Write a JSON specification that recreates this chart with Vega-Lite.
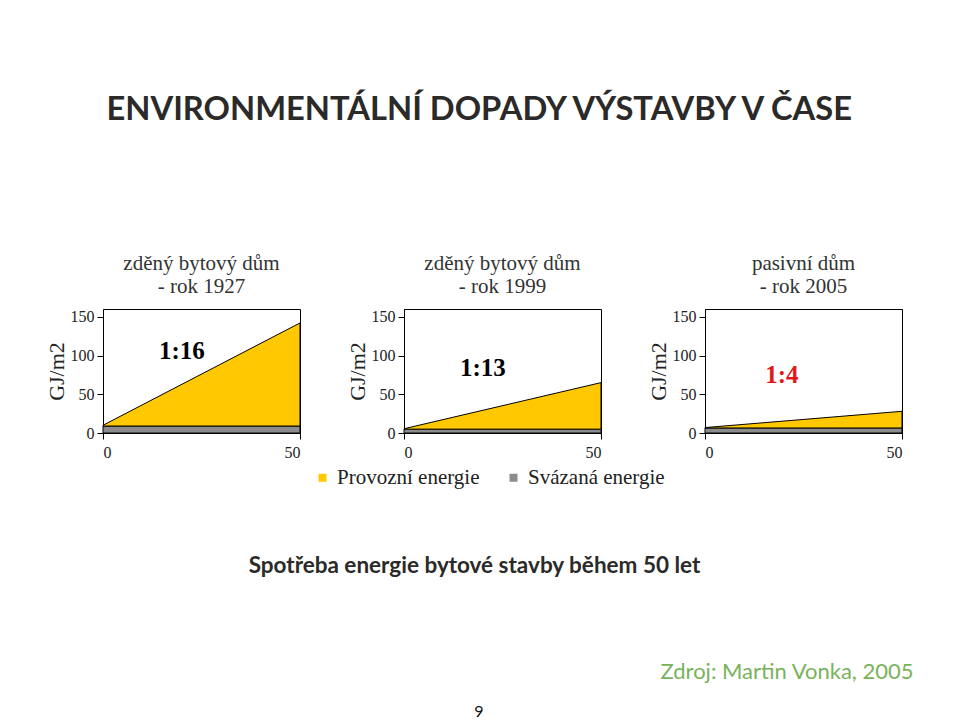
{
  "$schema": "https://vega.github.io/schema/vega-lite/v6.json",
  "background": "white",
  "padding": {"left": 44, "top": 93, "right": 10, "bottom": 5},
  "datasets": {
    "energie": [
      {"graf": "1927", "t": 0, "typ": "Svázaná energie", "dolni": 0, "horni": 9},
      {"graf": "1927", "t": 50, "typ": "Svázaná energie", "dolni": 0, "horni": 9},
      {"graf": "1927", "t": 0, "typ": "Provozní energie", "dolni": 9, "horni": 10},
      {"graf": "1927", "t": 50, "typ": "Provozní energie", "dolni": 9, "horni": 142},
      {"graf": "1999", "t": 0, "typ": "Svázaná energie", "dolni": 0, "horni": 5},
      {"graf": "1999", "t": 50, "typ": "Svázaná energie", "dolni": 0, "horni": 5},
      {"graf": "1999", "t": 0, "typ": "Provozní energie", "dolni": 5, "horni": 5.5},
      {"graf": "1999", "t": 50, "typ": "Provozní energie", "dolni": 5, "horni": 65},
      {"graf": "2005", "t": 0, "typ": "Svázaná energie", "dolni": 0, "horni": 6.5},
      {"graf": "2005", "t": 50, "typ": "Svázaná energie", "dolni": 0, "horni": 6.5},
      {"graf": "2005", "t": 0, "typ": "Provozní energie", "dolni": 6.5, "horni": 7},
      {"graf": "2005", "t": 50, "typ": "Provozní energie", "dolni": 6.5, "horni": 28}
    ],
    "pomer": [
      {"graf": "1927", "t": 20, "hodnota": 106, "popis": "1:16"},
      {"graf": "1999", "t": 20, "hodnota": 84, "popis": "1:13"},
      {"graf": "2005", "t": 19.5, "hodnota": 75, "popis": "1:4"}
    ]
  },
  "title": {
    "text": "ENVIRONMENTÁLNÍ DOPADY VÝSTAVBY V ČASE",
    "anchor": "start",
    "font": "Lato",
    "fontSize": 32.7,
    "fontWeight": "bold",
    "color": "#2b2a28",
    "dx": 62,
    "offset": 126
  },
  "vconcat": [
    {
      "title": {"text": "9", "orient": "bottom", "anchor": "middle", "font": "Lato", "fontSize": 16, "fontWeight": "normal", "color": "#111", "offset": 21},
      "vconcat": [
        {
          "title": {"text": "Zdroj: Martin Vonka, 2005", "orient": "bottom", "anchor": "end", "font": "Lato", "fontSize": 22, "fontWeight": "normal", "color": "#78b35a", "offset": 85, "dx": 9},
          "vconcat": [
            {
              "title": {"text": "Spotřeba energie bytové stavby během 50 let", "orient": "bottom", "anchor": "middle", "font": "Lato", "fontSize": 22.5, "fontWeight": "bold", "color": "#2b2a28", "offset": 66},
              "resolve": {"legend": {"color": "independent"}},
              "bounds": "flush",
              "spacing": 104,
              "hconcat": [
                {
                  "title": {"text": ["zděný bytový dům", "- rok 1927"]},
                  "width": 197, "height": 124,
                  "layer": [
                    {
                      "data": {"name": "energie"},
                      "transform": [{"filter": "datum.graf === '1927'"}],
                      "mark": {"type": "area", "stroke": "#000", "strokeWidth": 1, "opacity": 1},
                      "encoding": {
                        "x": {"field": "t", "type": "quantitative", "scale": {"domain": [0, 50], "nice": false}, "axis": {"values": [0, 50], "title": null}},
                        "y": {"field": "horni", "type": "quantitative", "scale": {"domain": [0, 150]}, "axis": {"values": [0, 50, 100, 150], "title": "GJ/m2"}},
                        "y2": {"field": "dolni"},
                        "color": {"field": "typ", "type": "nominal", "scale": {"domain": ["Provozní energie", "Svázaná energie"], "range": ["#FFC800", "#8C8C8C"]}, "legend": null}
                      }
                    },
                    {
                      "data": {"name": "pomer"},
                      "transform": [{"filter": "datum.graf === '1927'"}],
                      "mark": {"type": "text", "font": "Liberation Serif", "fontWeight": "bold", "fontSize": 25},
                      "encoding": {
                        "x": {"field": "t", "type": "quantitative"},
                        "y": {"field": "hodnota", "type": "quantitative"},
                        "text": {"field": "popis"},
                        "color": {"value": "#000"}
                      }
                    }
                  ]
                },
                {
                  "title": {"text": ["zděný bytový dům", "- rok 1999"]},
                  "width": 197, "height": 124,
                  "layer": [
                    {
                      "data": {"name": "energie"},
                      "transform": [{"filter": "datum.graf === '1999'"}],
                      "mark": {"type": "area", "stroke": "#000", "strokeWidth": 1, "opacity": 1},
                      "encoding": {
                        "x": {"field": "t", "type": "quantitative", "scale": {"domain": [0, 50], "nice": false}, "axis": {"values": [0, 50], "title": null}},
                        "y": {"field": "horni", "type": "quantitative", "scale": {"domain": [0, 150]}, "axis": {"values": [0, 50, 100, 150], "title": "GJ/m2"}},
                        "y2": {"field": "dolni"},
                        "color": {"field": "typ", "type": "nominal", "scale": {"domain": ["Provozní energie", "Svázaná energie"], "range": ["#FFC800", "#8C8C8C"]}, "legend": {"title": null, "orient": "none", "legendX": -92, "legendY": 158}}
                      }
                    },
                    {
                      "data": {"name": "pomer"},
                      "transform": [{"filter": "datum.graf === '1999'"}],
                      "mark": {"type": "text", "font": "Liberation Serif", "fontWeight": "bold", "fontSize": 25},
                      "encoding": {
                        "x": {"field": "t", "type": "quantitative"},
                        "y": {"field": "hodnota", "type": "quantitative"},
                        "text": {"field": "popis"},
                        "color": {"value": "#000"}
                      }
                    }
                  ]
                },
                {
                  "title": {"text": ["pasivní dům", "- rok 2005"]},
                  "width": 197, "height": 124,
                  "layer": [
                    {
                      "data": {"name": "energie"},
                      "transform": [{"filter": "datum.graf === '2005'"}],
                      "mark": {"type": "area", "stroke": "#000", "strokeWidth": 1, "opacity": 1},
                      "encoding": {
                        "x": {"field": "t", "type": "quantitative", "scale": {"domain": [0, 50], "nice": false}, "axis": {"values": [0, 50], "title": null}},
                        "y": {"field": "horni", "type": "quantitative", "scale": {"domain": [0, 150]}, "axis": {"values": [0, 50, 100, 150], "title": "GJ/m2"}},
                        "y2": {"field": "dolni"},
                        "color": {"field": "typ", "type": "nominal", "scale": {"domain": ["Provozní energie", "Svázaná energie"], "range": ["#FFC800", "#8C8C8C"]}, "legend": null}
                      }
                    },
                    {
                      "data": {"name": "pomer"},
                      "transform": [{"filter": "datum.graf === '2005'"}],
                      "mark": {"type": "text", "font": "Liberation Serif", "fontWeight": "bold", "fontSize": 25},
                      "encoding": {
                        "x": {"field": "t", "type": "quantitative"},
                        "y": {"field": "hodnota", "type": "quantitative"},
                        "text": {"field": "popis"},
                        "color": {"value": "#E3161B"}
                      }
                    }
                  ]
                }
              ]
            }
          ]
        }
      ]
    }
  ],
  "config": {
    "view": {"stroke": "#000", "strokeWidth": 1},
    "title": {"font": "Liberation Serif", "fontSize": 21, "fontWeight": "normal", "color": "#333", "anchor": "middle", "offset": 12, "lineHeight": 23},
    "axis": {
      "grid": false,
      "domainColor": "#000",
      "tickColor": "#000",
      "tickSize": 6,
      "labelFont": "Liberation Serif",
      "labelFontSize": 16,
      "labelColor": "#222",
      "titleFont": "Liberation Serif",
      "titleFontSize": 22,
      "titleFontWeight": "normal",
      "titleColor": "#222"
    },
    "axisY": {"titlePadding": 2, "labelPadding": 3},
    "axisX": {"labelPadding": 5},
    "legend": {
      "direction": "horizontal",
      "symbolType": "square",
      "symbolSize": 64,
      "symbolStrokeWidth": 0,
      "labelFont": "Liberation Serif",
      "labelFontSize": 21,
      "labelColor": "#222",
      "columnPadding": 23
    }
  }
}
